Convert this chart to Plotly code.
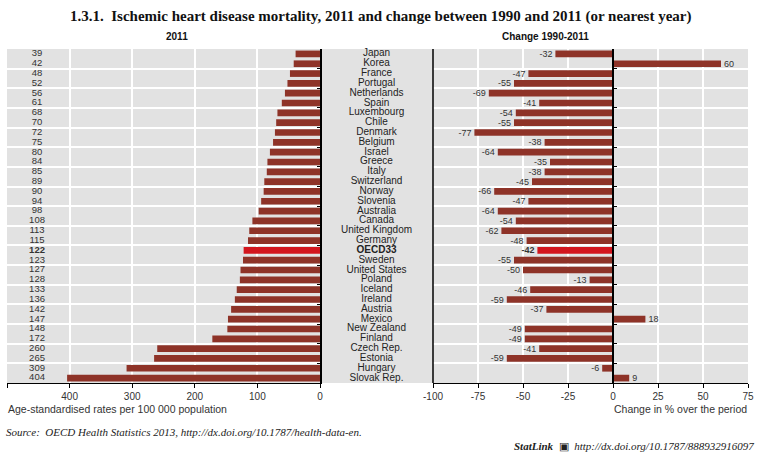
import plotly.graph_objects as go

countries = ["Japan", "Korea", "France", "Portugal", "Netherlands", "Spain", "Luxembourg", "Chile",
             "Denmark", "Belgium", "Israel", "Greece", "Italy", "Switzerland", "Norway", "Slovenia",
             "Australia", "Canada", "United Kingdom", "Germany", "OECD33", "Sweden", "United States",
             "Poland", "Iceland", "Ireland", "Austria", "Mexico", "New Zealand", "Finland", "Czech Rep.",
             "Estonia", "Hungary", "Slovak Rep."]
rate_2011 = [39, 42, 48, 52, 56, 61, 68, 70, 72, 75, 80, 84, 85, 89, 90, 94, 98, 108, 113, 115,
             122, 123, 127, 128, 133, 136, 142, 147, 148, 172, 260, 265, 309, 404]
change_1990_2011 = [-32, 60, -47, -55, -69, -41, -54, -55, -77, -38, -64, -35, -38, -45, -66, -47,
                    -64, -54, -62, -48, -42, -55, -50, -13, -46, -59, -37, 18, -49, -49, -41, -59, -6, 9]
highlight = "OECD33"

left_ticks = [500, 400, 300, 200, 100, 0]
right_ticks = [-100, -75, -50, -25, 0, 25, 50, 75]
left_range = [500, 0]
right_range = [-100, 75]

BAR = "#8E3328"
HI = "#D3161E"
BG = "#E2E2E2"
TXT = "#333333"
FONT = "Liberation Sans Narrow, Arial Narrow, Liberation Sans, Arial, sans-serif"

colors = [HI if c == highlight else BAR for c in countries]
cat_range = [len(countries) - 0.5, -0.5]

def fmt(c, v):
    return f"<b>{v}</b>" if c == highlight else str(v)

fig = go.Figure()

# Left panel bars
fig.add_trace(go.Bar(x=rate_2011, y=countries, orientation="h", marker_color=colors,
                     marker_line_width=0, xaxis="x", yaxis="y", showlegend=False, hoverinfo="x+y"))
# Left panel value labels (left column)
fig.add_trace(go.Scatter(x=[452] * len(countries), y=countries, mode="text",
                         text=[fmt(c, v) for c, v in zip(countries, rate_2011)],
                         textposition="middle center", textfont=dict(size=9.5, color=TXT, family=FONT),
                         xaxis="x", yaxis="y", showlegend=False, hoverinfo="skip", cliponaxis=False))
# Center country names
fig.add_trace(go.Scatter(x=[0] * len(countries), y=countries, mode="text",
                         text=[f"<b>{c}</b>" if c == highlight else c for c in countries],
                         textposition="middle center", textfont=dict(size=10, color="#222222", family=FONT),
                         xaxis="x3", yaxis="y3", showlegend=False, hoverinfo="skip", cliponaxis=False))
# Right panel bars
fig.add_trace(go.Bar(x=change_1990_2011, y=countries, orientation="h", marker_color=colors,
                     marker_line_width=0, xaxis="x2", yaxis="y2", showlegend=False,
                     text=[fmt(c, v) for c, v in zip(countries, change_1990_2011)],
                     textposition="outside", cliponaxis=False, constraintext="none",
                     textfont=dict(size=9, color=TXT, family=FONT), hoverinfo="x+y"))

top, bottom = 49, 383
H, W = 456, 761
yd = [1 - bottom / H, 1 - top / H]
xl = [7 / W, 320 / W]
xc = [320 / W, 433 / W]
xr = [433 / W, 748 / W]
zero_pos = xr[0] + (xr[1] - xr[0]) * (0 - right_range[0]) / (right_range[1] - right_range[0])

axis_font = dict(size=10, color=TXT, family=FONT)
ycommon = dict(domain=yd, categoryorder="array", categoryarray=countries, range=cat_range,
               autorange=False, automargin=False, zeroline=False)

fig.update_layout(
    template="none",
    width=W, height=H, autosize=False,
    margin=dict(l=0, r=0, t=0, b=0, pad=0),
    paper_bgcolor="white", plot_bgcolor=BG,
    bargap=0.32,
    font=dict(family=FONT, color=TXT),
    xaxis=dict(domain=xl, range=left_range, tickvals=left_ticks, ticktext=[str(v) for v in left_ticks],
               showgrid=True, gridcolor="white",
               gridwidth=1.5, zeroline=False, showline=True, linecolor="black", linewidth=1,
               ticks="outside", ticklen=4, tickcolor="black", tickfont=axis_font, anchor="y",
               automargin=False),
    yaxis=dict(**ycommon, side="right", showticklabels=False, showgrid=True, gridcolor="white",
               gridwidth=1.5, tickson="boundaries", ticks="inside", ticklen=3, tickcolor="black",
               showline=True, linecolor="black", linewidth=1.5, anchor="x"),
    xaxis3=dict(domain=xc, range=[-1, 1], visible=False, anchor="y3", automargin=False),
    yaxis3=dict(**ycommon, visible=False, anchor="x3"),
    xaxis2=dict(domain=xr, range=right_range, tickvals=right_ticks, ticktext=[str(v) for v in right_ticks],
                showgrid=True, gridcolor="white",
                gridwidth=1.5, zeroline=False, showline=True, linecolor="black", linewidth=1,
                ticks="outside", ticklen=4, tickcolor="black", tickfont=axis_font, anchor="y2",
                automargin=False),
    yaxis2=dict(**ycommon, showticklabels=False, showgrid=True, gridcolor="white", gridwidth=1.5,
                tickson="boundaries", ticks="inside", ticklen=3, tickcolor="black",
                showline=True, linecolor="black", linewidth=1.5, anchor="free", position=zero_pos),
    shapes=[dict(type="line", xref="x2 domain", yref="y2 domain", x0=0, x1=0, y0=0, y1=1,
                 line=dict(color="black", width=1.5), layer="above")],
    annotations=[
        dict(text="<b>1.3.1.  Ischemic heart disease mortality, 2011 and change between 1990 and 2011 (or nearest year)</b>",
             x=380 / W, y=1 - 17 / H, xref="paper", yref="paper", showarrow=False,
             font=dict(size=15, color="#111111", family="Liberation Serif, serif"), xanchor="center", yanchor="middle"),
        dict(text="<b>2011</b>", x=(xl[0] + xl[1]) / 2, y=1 - 37 / H, xref="paper", yref="paper",
             showarrow=False, font=dict(size=10, color="#111111", family=FONT), yanchor="middle"),
        dict(text="<b>Change 1990-2011</b>", x=(xr[0] + xr[1]) / 2, y=1 - 37 / H, xref="paper", yref="paper",
             showarrow=False, font=dict(size=10, color="#111111", family=FONT), yanchor="middle"),
        dict(text="Age-standardised rates per 100 000 population", x=6 / W, y=1 - 409 / H,
             xref="paper", yref="paper", showarrow=False, xanchor="left", yanchor="middle",
             font=dict(size=10.5, color=TXT, family=FONT)),
        dict(text="Change in % over the period", x=749 / W, y=1 - 409 / H,
             xref="paper", yref="paper", showarrow=False, xanchor="right", yanchor="middle",
             font=dict(size=10.5, color=TXT, family=FONT)),
        dict(text="<i>Source:  OECD Health Statistics 2013, http://dx.doi.org/10.1787/health-data-en.</i>",
             x=4 / W, y=1 - 432 / H, xref="paper", yref="paper", showarrow=False, xanchor="left",
             yanchor="middle", font=dict(size=11, color="#222222", family="Liberation Serif, serif")),
        dict(text="<b><i>StatLink</i></b>  ▣  <i>http://dx.doi.org/10.1787/888932916097</i>",
             x=756 / W, y=1 - 446 / H, xref="paper", yref="paper", showarrow=False, xanchor="right",
             yanchor="middle", font=dict(size=11, color="#222222", family="Liberation Serif, serif")),
    ],
)

fig.write_html("out.html", config={"displayModeBar": False},
               post_script="document.body.style.margin='0';document.body.style.overflow='hidden';")
